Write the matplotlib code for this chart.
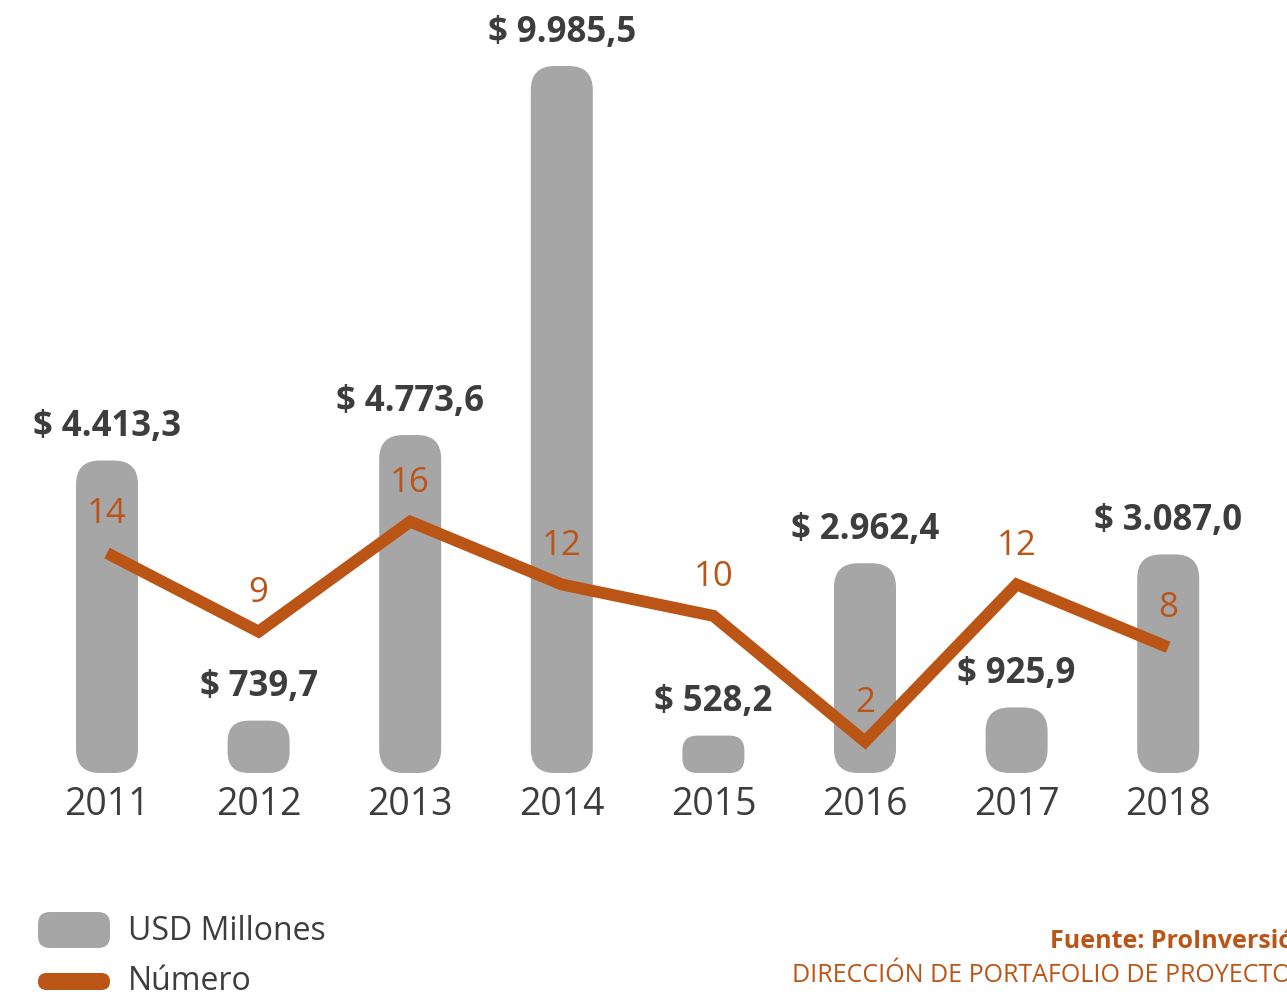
import matplotlib
matplotlib.use('Agg')
import matplotlib.pyplot as plt
from matplotlib.patches import FancyBboxPatch

# --- data ---
years = ['2011', '2012', '2013', '2014', '2015', '2016', '2017', '2018']
usd_millones = [4413.3, 739.7, 4773.6, 9985.5, 528.2, 2962.4, 925.9, 3087.0]
numero = [14, 9, 16, 12, 10, 2, 12, 8]
usd_labels = ['$ 4.413,3', '$ 739,7', '$ 4.773,6', '$ 9.985,5',
              '$ 528,2', '$ 2.962,4', '$ 925,9', '$ 3.087,0']

GRAY = '#a6a6a6'
ORANGE = '#bb5516'
DARK = '#3d3d3d'
FONT = 'Open Sans'
plt.rcParams['font.family'] = [FONT, 'DejaVu Sans']

W, H = 1287, 1001
fig = plt.figure(figsize=(W / 100, H / 100), dpi=100)

# axes placed in pixel terms: baseline at y=773, max bar top at y=66
step = 151.6
x0 = 107
ax = fig.add_axes([0, (H - 773) / H, 1, (773 - 66) / H])
ax.set_xlim(-x0 / step, (W - x0) / step)
ax.set_ylim(0, max(usd_millones))
ax.axis('off')

ax2 = ax.twinx()
ax2.set_position(ax.get_position())
ax2.set_ylim(0, 45)
ax2.axis('off')

# rounded bars
px_x = ax.transData.transform((1, 0))[0] - ax.transData.transform((0, 0))[0]
px_y = ax.transData.transform((0, 1000))[1] - ax.transData.transform((0, 0))[1]
px_y /= 1000.0
bar_w = 62 / px_x
for i, v in enumerate(usd_millones):
    h_px = v * px_y
    r_px = min(24, h_px * 0.4)
    r_x = r_px / px_x
    bar = FancyBboxPatch((i - bar_w / 2, 0), bar_w, v,
                         boxstyle=f"round,pad=0,rounding_size={r_x}",
                         mutation_aspect=px_x / px_y,
                         facecolor=GRAY, edgecolor='none', zorder=1)
    ax.add_patch(bar)
    ax.annotate(usd_labels[i], (i, v), xytext=(0, 24), textcoords='offset points',
                ha='center', va='center', fontsize=25, fontweight='bold', color=DARK)
    ax.annotate(years[i], (i, 0), xytext=(0, -23), textcoords='offset points',
                ha='center', va='center', fontsize=27, color=DARK)

xs = list(range(len(years)))
ax2.plot(xs, numero, color=ORANGE, lw=8.6, solid_joinstyle='miter',
         solid_capstyle='butt', zorder=3)
for i, n in enumerate(numero):
    ax2.annotate(str(n), (i, n), xytext=(0, 28), textcoords='offset points',
                 ha='center', va='center', fontsize=25, color=ORANGE)

# legend and source, drawn in pixel coordinates
lg = fig.add_axes([0, 0, 1, 1])
lg.set_xlim(0, W)
lg.set_ylim(H, 0)
lg.axis('off')
lg.add_patch(FancyBboxPatch((38, 912), 72, 36, boxstyle="round,pad=0,rounding_size=12",
                            facecolor=GRAY, edgecolor='none'))
lg.add_patch(FancyBboxPatch((38, 973), 72, 17, boxstyle="round,pad=0,rounding_size=8.5",
                            facecolor=ORANGE, edgecolor='none'))
lg.text(128, 932, 'USD Millones', ha='left', va='center', fontsize=23, color=DARK)
lg.text(128, 982, 'Número', ha='left', va='center', fontsize=23, color=DARK)
lg.text(1050, 941, 'Fuente: ProInversión', ha='left', va='center', fontsize=18,
        fontweight='bold', color=ORANGE)
lg.text(792, 975, 'DIRECCIÓN DE PORTAFOLIO DE PROYECTOS', ha='left', va='center',
        fontsize=18, color=ORANGE)

fig.savefig('out.png', dpi=100)
